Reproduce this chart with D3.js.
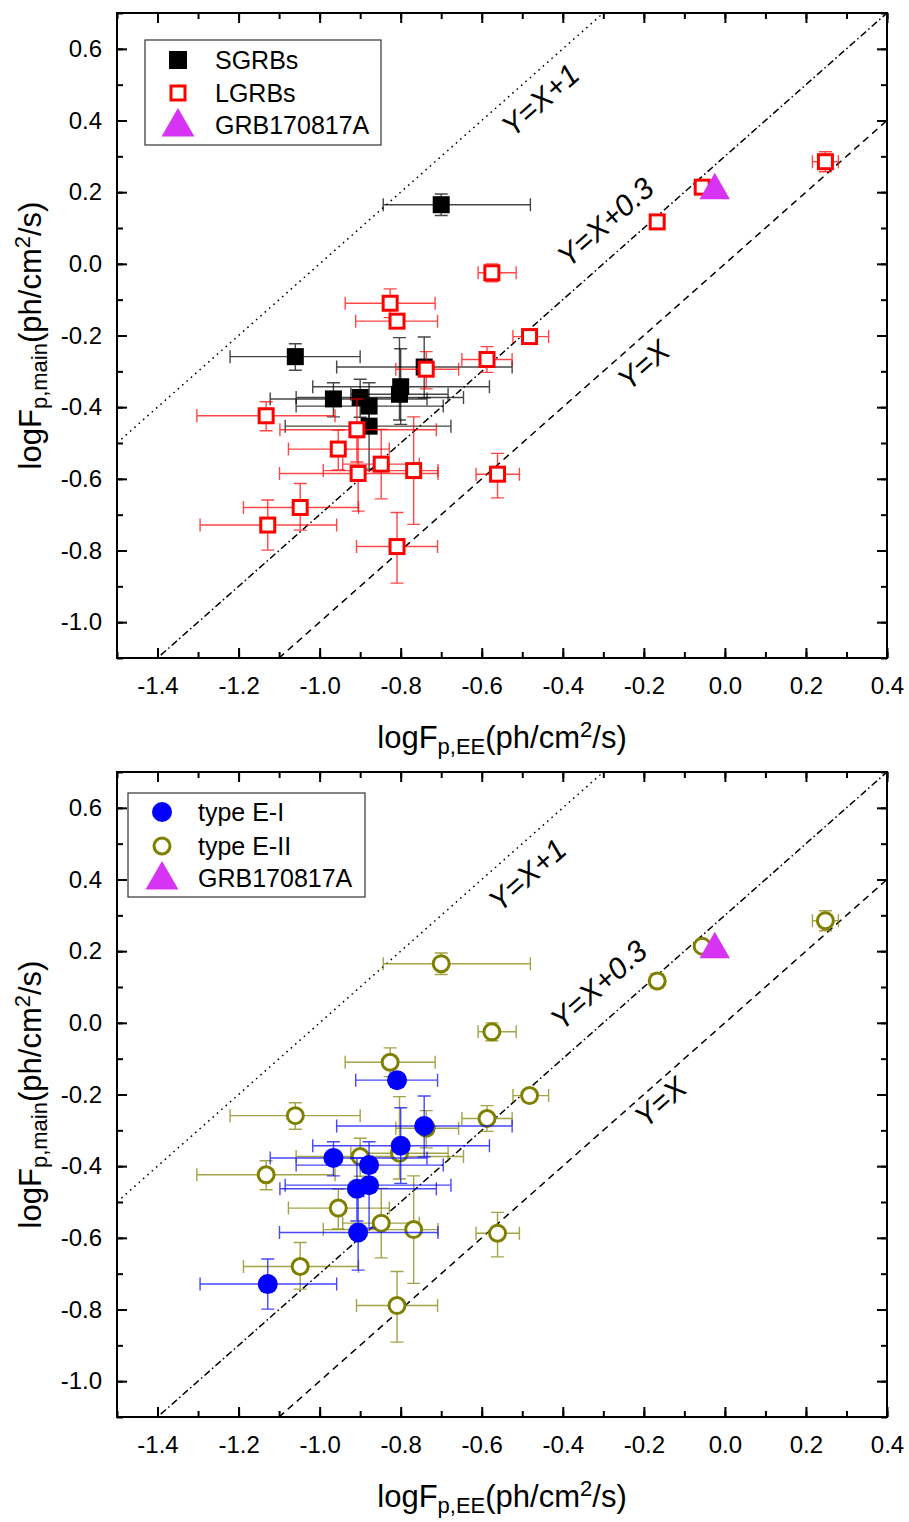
<!DOCTYPE html>
<html><head><meta charset="utf-8">
<script src="https://cdn.jsdelivr.net/npm/d3@7"></script>
<style>
body{margin:0;background:#fff}
svg{display:block}
text{font-family:"Liberation Sans",Arial,Helvetica,sans-serif;fill:#000}
</style>
</head><body>
<svg id="chart" width="909" height="1522"></svg>
<script>
// ---------------- DATA ----------------
// logF_p,EE (x) and logF_p,main (y) with asymmetric errors
const logFpEE   = [-0.700,-1.060,-0.742,-0.966,-0.900,-0.878,-0.800,-0.803,-0.878,
                   -0.826,-0.809,-0.575,-0.167,-0.056, 0.248,-0.482,-0.587,-0.737,-1.132,
                   -0.908,-0.954,-0.905,-0.848,-0.768,-0.561,-1.048,-1.128,-0.809];
const xErrMinus = [0.143,0.161,0.216,0.156,0.158,0.180,0.217,0.120,0.207,
                   0.111,0.102,0.034,0.015,0.010,0.032,0.041,0.062,0.075,0.171,
                   0.190,0.123,0.194,0.095,0.223,0.053,0.140,0.167,0.100];
const xErrPlus  = [0.220,0.160,0.217,0.231,0.255,0.183,0.219,0.120,0.202,
                   0.111,0.100,0.060,0.015,0.010,0.032,0.047,0.062,0.080,0.170,
                   0.196,0.126,0.197,0.094,0.060,0.054,0.144,0.170,0.100];
const logFpMain = [ 0.165,-0.259,-0.288,-0.377,-0.373,-0.397,-0.343,-0.364,-0.453,
                   -0.110,-0.160,-0.025, 0.117, 0.214, 0.285,-0.203,-0.267,-0.294,-0.424,
                   -0.463,-0.517,-0.585,-0.559,-0.577,-0.587,-0.680,-0.729,-0.789];
const yErrMinus = [0.030,0.038,0.086,0.050,0.055,0.051,0.105,0.072,0.120,
                   0.040,0.015,0.025,0.020,0.012,0.028,0.015,0.036,0.055,0.042,
                   0.090,0.058,0.105,0.097,0.150,0.066,0.063,0.070,0.102];
const yErrPlus  = [0.030,0.036,0.084,0.045,0.051,0.065,0.106,0.158,0.070,
                   0.040,0.015,0.025,0.020,0.012,0.028,0.015,0.036,0.049,0.039,
                   0.086,0.053,0.100,0.097,0.150,0.058,0.067,0.070,0.095];
// classification: SGRB / LGRB (top panel) and EE type (bottom panel)
const grbClass  = ["S","S","S","S","S","S","S","S","S",
                   "L","L","L","L","L","L","L","L","L","L",
                   "L","L","L","L","L","L","L","L","L"];
const eeType    = ["E-II","E-II","E-I","E-I","E-II","E-I","E-I","E-II","E-I",
                   "E-II","E-I","E-II","E-II","E-II","E-II","E-II","E-II","E-II","E-II",
                   "E-I","E-II","E-I","E-II","E-II","E-II","E-II","E-I","E-II"];
const grb170817A = [-0.025, 0.205];
const xTickValues = [-1.4,-1.2,-1.0,-0.8,-0.6,-0.4,-0.2,0.0,0.2,0.4];
const yTickValues = [-1.0,-0.8,-0.6,-0.4,-0.2,0.0,0.2,0.4,0.6];
const refOffsets  = [1, 0.3, 0];
const refLabels   = ["Y=X+1","Y=X+0.3","Y=X"];
const legendTop    = ["SGRBs","LGRBs","GRB170817A"];
const legendBottom = ["type E-I","type E-II","GRB170817A"];

// ---------------- LAYOUT ----------------
const svg = d3.select("#chart");
const left = 117, right = 887, ph = 645;
const panelTops = [13, 772];
const fmt = v => d3.format(".1f")(v).replace("\u2212","-");
const dashes = ["1.6,4.2","7,3,1.6,3","7,5"];
const labelPos = [
  [[-0.456,0.457],[-0.295,0.117],[-0.201,-0.282]],
  [[-0.488,0.413],[-0.312,0.106],[-0.159,-0.221]]
];

const points = logFpEE.map((x,i)=>({x, y:logFpMain[i], xm:xErrMinus[i], xp:xErrPlus[i],
  ym:yErrMinus[i], yp:yErrPlus[i], cls:grbClass[i], type:eeType[i]}));

function drawPanel(pi){
  const top = panelTops[pi];
  const x = d3.scaleLinear().domain([-1.5,0.4]).range([left,right]);
  const y = d3.scaleLinear().domain([-1.1,0.7]).range([top+ph, top]);
  const g = svg.append("g");
  const clipId = "clip"+pi;
  g.append("clipPath").attr("id",clipId).append("rect")
    .attr("x",left).attr("y",top).attr("width",right-left).attr("height",ph);

  // axes (ticks inward on all sides)
  const minorX = d3.range(-15,5).map(v=>v/10);
  const minorY = d3.range(-11,8).map(v=>v/10);
  const axB = d3.axisBottom(x).tickValues(xTickValues).tickSize(-10).tickFormat(fmt).tickPadding(19);
  const axT = d3.axisTop(x).tickValues(xTickValues).tickSize(-10).tickFormat("");
  const axL = d3.axisLeft(y).tickValues(yTickValues).tickSize(-10).tickFormat(fmt).tickPadding(15);
  const axR = d3.axisRight(y).tickValues(yTickValues).tickSize(-10).tickFormat("");
  const mB = d3.axisBottom(x).tickValues(minorX).tickSize(-6).tickFormat("");
  const mT = d3.axisTop(x).tickValues(minorX).tickSize(-6).tickFormat("");
  const mL = d3.axisLeft(y).tickValues(minorY).tickSize(-6).tickFormat("");
  const mR = d3.axisRight(y).tickValues(minorY).tickSize(-6).tickFormat("");
  const axes = g.append("g").attr("class","axes");
  [[axB,`translate(0,${top+ph})`],[axT,`translate(0,${top})`],[axL,`translate(${left},0)`],[axR,`translate(${right},0)`],
   [mB,`translate(0,${top+ph})`],[mT,`translate(0,${top})`],[mL,`translate(${left},0)`],[mR,`translate(${right},0)`]]
   .forEach(([a,t])=>{
     const s = axes.append("g").attr("transform",t).call(a);
     s.select(".domain").remove();
     s.selectAll("line").attr("stroke","#000").attr("stroke-width",2);
     s.selectAll("text").attr("font-size",24).attr("font-family",'"Liberation Sans",Arial,sans-serif').attr("fill","#000");
   });

  // reference lines
  const lines = g.append("g").attr("clip-path",`url(#${clipId})`);
  refOffsets.forEach((o,k)=>{
    lines.append("line")
      .attr("x1",x(-1.5)).attr("y1",y(-1.5+o))
      .attr("x2",x(0.4)).attr("y2",y(0.4+o))
      .attr("stroke","#000").attr("stroke-width",1.5)
      .attr("stroke-dasharray",dashes[k]);
  });
  const ang = -Math.atan((y(0)-y(1))/(x(1)-x(0)))*180/Math.PI;
  refLabels.forEach((lab,k)=>{
    const p = labelPos[pi][k];
    g.append("text").attr("transform",`translate(${x(p[0])},${y(p[1])}) rotate(${ang})`)
      .attr("text-anchor","middle").attr("dominant-baseline","central")
      .attr("font-size",30).attr("font-style","italic").text(lab);
  });

  // data
  const data = g.append("g").attr("clip-path",`url(#${clipId})`);
  const groups = pi===0
    ? [{key:"S", f:d=>d.cls==="S", col:"#000", fill:"#000", shape:"square"},
       {key:"L", f:d=>d.cls==="L", col:"#ff0000", fill:"#fff", shape:"square"}]
    : [{key:"E-II", f:d=>d.type==="E-II", col:"#808000", fill:"#fff", shape:"circle"},
       {key:"E-I", f:d=>d.type==="E-I", col:"#0000ff", fill:"#0000ff", shape:"circle"}];
  const cap = 6.5;
  groups.forEach(gr=>{
    const pts = points.filter(gr.f);
    const eg = data.append("g").attr("stroke",gr.col).attr("stroke-width",1.4).attr("stroke-opacity",0.72).attr("fill","none");
    pts.forEach(d=>{
      const cx=x(d.x), cy=y(d.y), x0=x(d.x-d.xm), x1=x(d.x+d.xp), y0=y(d.y-d.ym), y1=y(d.y+d.yp);
      eg.append("path").attr("d",
        `M${x0},${cy}H${x1}M${x0},${cy-cap}V${cy+cap}M${x1},${cy-cap}V${cy+cap}`+
        `M${cx},${y0}V${y1}M${cx-cap},${y0}H${cx+cap}M${cx-cap},${y1}H${cx+cap}`);
    });
    const mg = data.append("g");
    pts.forEach(d=>{
      const cx=x(d.x), cy=y(d.y);
      if(gr.shape==="square"){
        if(gr.fill==="#000"){
          mg.append("rect").attr("x",cx-8.5).attr("y",cy-8.5).attr("width",17).attr("height",17).attr("fill","#000");
        } else {
          mg.append("rect").attr("x",cx-7).attr("y",cy-7).attr("width",14).attr("height",14)
            .attr("fill","#fff").attr("stroke",gr.col).attr("stroke-width",3);
        }
      } else {
        if(gr.fill==="#fff"){
          mg.append("circle").attr("cx",cx).attr("cy",cy).attr("r",8).attr("fill","#fff")
            .attr("stroke",gr.col).attr("stroke-width",3);
        } else {
          mg.append("circle").attr("cx",cx).attr("cy",cy).attr("r",10).attr("fill",gr.col);
        }
      }
    });
  });
  // GRB170817A triangle
  const tri = d3.symbol().type(d3.symbolTriangle).size(400);
  data.append("path").attr("d",tri())
    .attr("transform",`translate(${x(grb170817A[0])},${y(grb170817A[1])})`)
    .attr("fill","#d633f5");

  // frame
  g.append("rect").attr("x",left).attr("y",top).attr("width",right-left).attr("height",ph)
    .attr("fill","none").attr("stroke","#000").attr("stroke-width",2);

  // legend
  const lg = g.append("g");
  const lb = pi===0 ? {x:145,y:40,w:236,h:105,mx:178,tx:215,rows:[60,93,125]}
                    : {x:128,y:793,w:237,h:104,mx:162,tx:198,rows:[812,846,878]};
  lg.append("rect").attr("x",lb.x).attr("y",lb.y).attr("width",lb.w).attr("height",lb.h)
    .attr("fill","#fff").attr("stroke","#333").attr("stroke-width",1.2);
  const labels = pi===0 ? legendTop : legendBottom;
  labels.forEach((t,k)=>{
    const cy = lb.rows[k];
    if(k===2){
      lg.append("path").attr("d",d3.symbol().type(d3.symbolTriangle).size(470)())
        .attr("transform",`translate(${lb.mx},${cy+2})`).attr("fill","#d633f5");
    } else if(pi===0){
      if(k===0) lg.append("rect").attr("x",lb.mx-9).attr("y",cy-9).attr("width",18).attr("height",18).attr("fill","#000");
      else lg.append("rect").attr("x",lb.mx-7).attr("y",cy-7).attr("width",14).attr("height",14)
             .attr("fill","#fff").attr("stroke","#ff0000").attr("stroke-width",3);
    } else {
      if(k===0) lg.append("circle").attr("cx",lb.mx).attr("cy",cy).attr("r",10).attr("fill","#0000ff");
      else lg.append("circle").attr("cx",lb.mx).attr("cy",cy).attr("r",8).attr("fill","#fff")
             .attr("stroke","#808000").attr("stroke-width",3);
    }
    lg.append("text").attr("x",lb.tx).attr("y",cy).attr("dominant-baseline","central")
      .attr("font-size",25).text(t);
  });

  // axis titles
  const xt = g.append("text").attr("x",(left+right)/2).attr("y",top+ph+90)
    .attr("text-anchor","middle").attr("font-size",31);
  xt.append("tspan").text("logF");
  xt.append("tspan").attr("font-size",22).attr("dy",6).text("p,EE");
  xt.append("tspan").attr("dy",-6).text("(ph/cm");
  xt.append("tspan").attr("font-size",22).attr("dy",-11).text("2");
  xt.append("tspan").attr("dy",11).text("/s)");

  const yt = g.append("text").attr("transform",`translate(41,${top+ph/2}) rotate(-90)`)
    .attr("text-anchor","middle").attr("font-size",31);
  yt.append("tspan").text("logF");
  yt.append("tspan").attr("font-size",22).attr("dy",6).text("p,main");
  yt.append("tspan").attr("dy",-6).text("(ph/cm");
  yt.append("tspan").attr("font-size",22).attr("dy",-11).text("2");
  yt.append("tspan").attr("dy",11).text("/s)");
}
drawPanel(0);
drawPanel(1);
</script>
</body></html>
